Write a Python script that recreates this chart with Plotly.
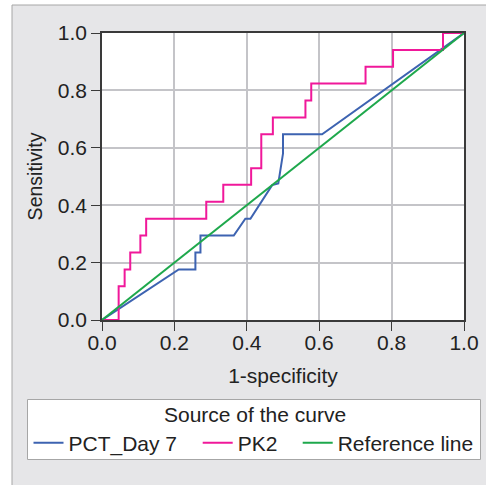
import plotly.graph_objects as go

# ---- data ----
pct_fpr = [0, 0.212, 0.258, 0.258, 0.272, 0.272, 0.364, 0.396, 0.41, 0.47, 0.487, 0.493, 0.5, 0.5, 0.608, 1.0]
pct_tpr = [0, 0.176, 0.176, 0.235, 0.235, 0.294, 0.294, 0.353, 0.353, 0.47, 0.476, 0.52, 0.58, 0.647, 0.647, 1.0]

pk2_fpr = [0, 0.046, 0.0625, 0.078, 0.106, 0.122, 0.288, 0.335, 0.412, 0.44, 0.472, 0.562, 0.578, 0.728, 0.804, 0.942, 1.0]
pk2_tpr = [0, 0.118, 0.176, 0.235, 0.294, 0.353, 0.412, 0.471, 0.529, 0.647, 0.706, 0.765, 0.824, 0.882, 0.941, 1.0, 1.0]

ref_x = [0, 1]
ref_y = [0, 1]

tick_vals = [0, 0.2, 0.4, 0.6, 0.8, 1.0]
tick_text = ["0.0", "0.2", "0.4", "0.6", "0.8", "1.0"]

# ---- layout geometry ----
W, H = 486, 485
ML, MR, MT, MB = 102, 22, 33, 165
PW, PH = W - ML - MR, H - MT - MB


def px(p):
    return (p - ML) / PW


def py(p):
    return (MT + PH - p) / PH


FONT = "Liberation Sans, Arial, sans-serif"
FS = 21
TXT = "#222222"
BLUE, PINK, GREEN = "#3d63b1", "#f0189a", "#1ea84c"

fig = go.Figure()
fig.add_trace(go.Scatter(x=pct_fpr, y=pct_tpr, mode="lines", name="PCT_Day 7",
                         line=dict(color=BLUE, width=2), legend="legend"))
fig.add_trace(go.Scatter(x=pk2_fpr, y=pk2_tpr, mode="lines", name="PK2",
                         line=dict(color=PINK, width=2, shape="hv"), legend="legend2"))
fig.add_trace(go.Scatter(x=ref_x, y=ref_y, mode="lines", name="Reference line",
                         line=dict(color=GREEN, width=2), legend="legend3"))

axis_common = dict(
    range=[0, 1], tickvals=tick_vals, ticktext=tick_text,
    showgrid=True, gridcolor="#c4c4c8", gridwidth=1.5,
    showline=True, linecolor="#3a3a3a", linewidth=1.5, mirror=True,
    ticks="outside", ticklen=9, tickwidth=1.2, tickcolor="#3a3a3a",
    tickfont=dict(family=FONT, size=FS, color=TXT),
    zeroline=False, fixedrange=True, automargin=False,
)

leg_common = dict(orientation="h", bgcolor="rgba(0,0,0,0)", borderwidth=0,
                  xanchor="left", yanchor="middle", y=py(443),
                  font=dict(family=FONT, size=FS, color=TXT),
                  itemclick=False, itemdoubleclick=False)

fig.update_layout(
    width=W, height=H,
    margin=dict(l=ML, r=MR, t=MT, b=MB, autoexpand=False),
    paper_bgcolor="#e6e6e8", plot_bgcolor="white",
    font=dict(family=FONT, size=FS, color=TXT),
    xaxis=dict(axis_common, ticklabelstandoff=-6,
               title=dict(text="1-specificity", font=dict(family=FONT, size=FS, color=TXT), standoff=15)),
    yaxis=dict(axis_common,
               title=dict(text="Sensitivity", font=dict(family=FONT, size=19.5, color=TXT), standoff=10)),
    legend=dict(leg_common, x=px(28.5)),
    legend2=dict(leg_common, x=px(197.7)),
    legend3=dict(leg_common, x=px(297.7)),
    showlegend=True,
    shapes=[
        # white strips outside the grey panel
        dict(type="rect", xref="paper", yref="paper", x0=-0.4, x1=px(12), y0=-0.8, y1=1.3,
             fillcolor="white", line=dict(width=0), layer="below"),
        dict(type="rect", xref="paper", yref="paper", x0=-0.4, x1=1.2, y0=py(5), y1=1.3,
             fillcolor="white", line=dict(width=0), layer="below"),
        # panel border
        dict(type="line", xref="paper", yref="paper", x0=px(12), x1=px(12), y0=-0.8, y1=py(5),
             line=dict(color="#a6a6a6", width=1)),
        dict(type="line", xref="paper", yref="paper", x0=px(12), x1=1.2, y0=py(5), y1=py(5),
             line=dict(color="#a6a6a6", width=1)),
        # legend box
        dict(type="rect", xref="paper", yref="paper", x0=px(27.5), x1=px(480.5),
             y0=py(459.5), y1=py(399.5), fillcolor="white",
             line=dict(color="#a6a6a6", width=1), layer="below"),
    ],
    annotations=[
        dict(text="Source of the curve", xref="paper", yref="paper", x=px(254.5), y=py(414),
             xanchor="center", yanchor="middle", showarrow=False,
             font=dict(family=FONT, size=FS, color=TXT)),
    ],
)

fig.write_html("out.html", config={"displayModeBar": False},
               post_script="document.body.style.margin='0px';document.body.style.overflow='hidden';")
